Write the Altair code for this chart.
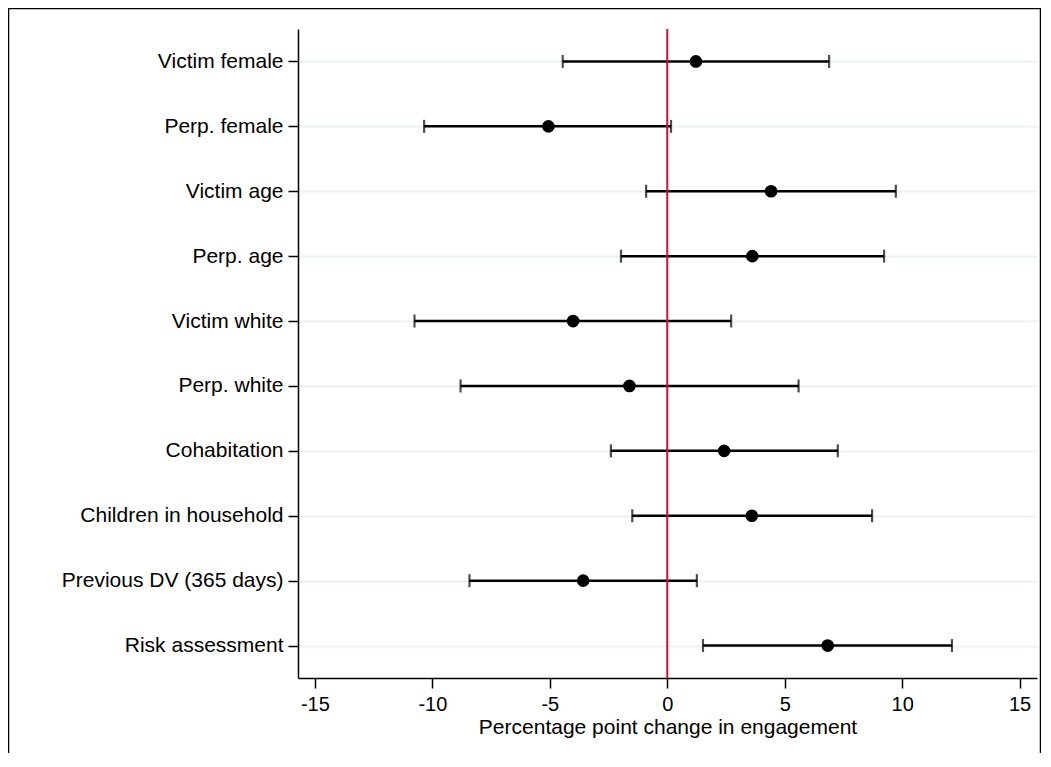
import altair as alt
import pandas as pd

categories = [
    "Victim female",
    "Perp. female",
    "Victim age",
    "Perp. age",
    "Victim white",
    "Perp. white",
    "Cohabitation\u00a0",
    "Children in household",
    "Previous DV (365 days)",
    "Risk assessment",
]
coef = [1.22, -5.06, 4.42, 3.62, -4.01, -1.61, 2.42, 3.60, -3.58, 6.83]
lower = [-4.45, -10.35, -0.90, -1.97, -10.76, -8.80, -2.40, -1.49, -8.42, 1.52]
upper = [6.89, 0.16, 9.73, 9.23, 2.72, 5.59, 7.26, 8.72, 1.26, 12.12]
x_ticks = [-15, -10, -5, 0, 5, 10, 15]

df = pd.DataFrame({"term": categories, "coef": coef, "lo": lower, "hi": upper})

FONT = "Liberation Sans"

x_scale = alt.Scale(domain=[-15.72, 15.74], nice=False, zero=False)
x_axis = alt.Axis(
    title="Percentage point change in engagement",
    values=x_ticks,
    labelExpr="'' + datum.value",
    grid=False,
    domainColor="black",
    domainWidth=1.5,
    tickColor="black",
    tickWidth=1.5,
    tickSize=10,
    labelFont=FONT,
    labelFontSize=20,
    labelColor="black",
    labelPadding=6,
    titleFont=FONT,
    titleFontSize=21,
    titleFontWeight="normal",
    titleColor="black",
    titlePadding=2,
)
y_scale = alt.Scale(type="point", padding=0.5)
y_axis = alt.Axis(
    title=None,
    grid=True,
    gridColor="#eaf2f3",
    gridWidth=2,
    domainColor="black",
    domainWidth=1.5,
    tickColor="black",
    tickWidth=1.5,
    tickSize=10,
    labelFont=FONT,
    labelFontSize=21,
    labelColor="black",
    labelPadding=5,
    labelLimit=0,
)

def X(field):
    return alt.X(field, type="quantitative", scale=x_scale, axis=x_axis)

Y = alt.Y("term:N", sort=categories, scale=y_scale, axis=y_axis)

base = alt.Chart(df)

bars = base.mark_rule(color="black", strokeWidth=2.5).encode(
    x=X("lo"), x2="hi", y=Y
)
cap_lo = base.mark_tick(color="black", orient="vertical", size=13, thickness=2.2).encode(
    x=X("lo"), y=Y
)
cap_hi = base.mark_tick(color="black", orient="vertical", size=13, thickness=2.2).encode(
    x=X("hi"), y=Y
)
zero_line = alt.Chart(alt.Data(values=[{"z": 0}])).mark_rule(
    color="#c8143c", strokeWidth=2
).encode(x=X("z"))
dots = base.mark_circle(color="black", opacity=1, size=160).encode(x=X("coef"), y=Y)

frame = alt.Chart(alt.Data(values=[{"f": 1}])).mark_rect(
    fillOpacity=0, stroke="black", strokeWidth=1.5
).encode(
    x=alt.value(-289.5), x2=alt.value(742.5), y=alt.value(-20.5), y2=alt.value(800)
)

chart = (
    alt.layer(bars, cap_lo, cap_hi, zero_line, dots, frame)
    .properties(
        width=739,
        height=649,
        autosize=alt.AutoSizeParams(type="none"),
        padding={"left": 290, "top": 21, "right": 4, "bottom": 75},
        background="white",
    )
    .configure_view(stroke=None)
)

chart.save("out.html", embed_options={"renderer": "svg", "actions": False})
